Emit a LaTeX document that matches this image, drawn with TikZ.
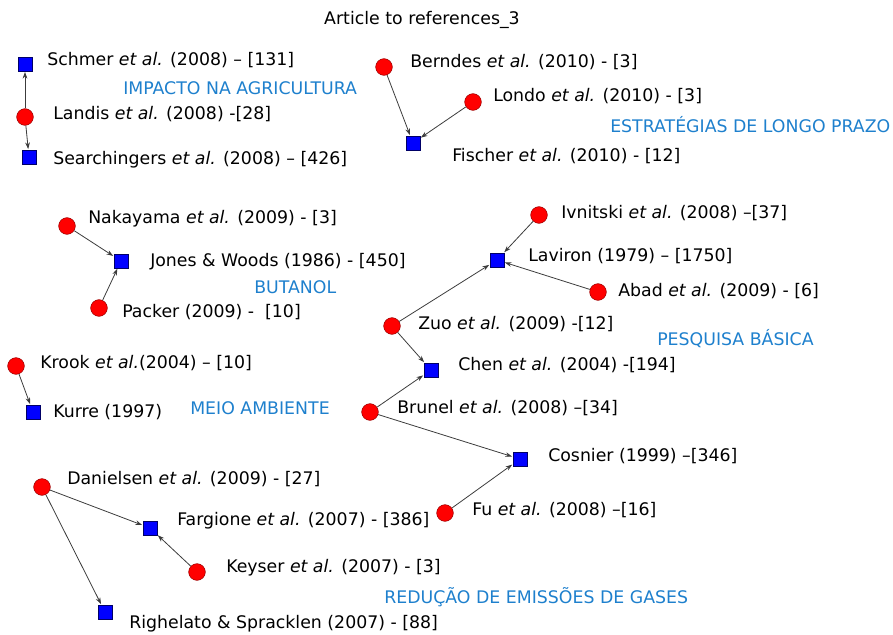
\documentclass[tikz,border=0pt]{standalone}
\usepackage{fontspec}
\setmainfont{DejaVu Sans}
\usetikzlibrary{arrows.meta}
\definecolor{catblue}{RGB}{30,128,205}
\definecolor{edgegray}{RGB}{60,60,60}
\tikzset{
  citing/.style={circle,draw=red!60!black,fill=red,minimum size=12.5pt,inner sep=0pt,line width=0.4pt},
  cited/.style={rectangle,draw=blue!40!black,fill=blue,minimum size=10.5pt,inner sep=0pt,line width=0.4pt},
  lbl/.style={anchor=west,inner sep=0pt,font=\fontsize{13}{15}\selectfont,text=black},
  cat/.style={anchor=west,inner sep=0pt,font=\fontsize{13}{15}\selectfont,text=catblue},
  link/.style={draw=edgegray,line width=0.6pt,-{Stealth[length=5pt,width=3.5pt]},shorten >=0.5pt}
}
\begin{document}
\begin{tikzpicture}[x=0.75pt,y=-0.75pt]
\useasboundingbox (0,0) rectangle (893,635);
\node[anchor=center,inner sep=0pt,font=\fontsize{13}{15}\selectfont] (title) at (422,20) {Article to references\_3};

% IMPACTO NA AGRICULTURA
\node[cited] (schmer) at (25,64) {};
\node[citing] (landis) at (25,117) {};
\node[cited] (search) at (29,157) {};
\draw[link] (landis) -- (schmer);
\draw[link] (landis) -- (search);
\node[lbl] (tschmer) at (47,60) {Schmer \textit{et al.} (2008) – [131]};
\node[cat] (cagri) at (123,88) {IMPACTO NA AGRICULTURA};
\node[lbl] (tlandis) at (53,114) {Landis \textit{et al.} (2008) -[28]};
\node[lbl] (tsearch) at (53,160) {Searchingers \textit{et al.} (2008) – [426]};

% ESTRATEGIAS
\node[citing] (berndes) at (384,67) {};
\node[citing] (londo) at (473,102) {};
\node[cited] (fischer) at (413,143) {};
\draw[link] (berndes) -- (fischer);
\draw[link] (londo) -- (fischer);
\node[lbl] (tberndes) at (410,62) {Berndes \textit{et al.} (2010) - [3]};
\node[lbl] (tlondo) at (493,96) {Londo \textit{et al.} (2010) - [3]};
\node[cat] (cestr) at (610,125) {ESTRATÉGIAS DE LONGO PRAZO};
\node[lbl] (tfischer) at (452,156) {Fischer \textit{et al.} (2010) - [12]};

% BUTANOL
\node[citing] (nakayama) at (67,226) {};
\node[cited] (jones) at (121,261) {};
\node[citing] (packer) at (99,308) {};
\draw[link] (nakayama) -- (jones);
\draw[link] (packer) -- (jones);
\node[lbl] (tnakayama) at (88,219) {Nakayama \textit{et al.} (2009) - [3]};
\node[lbl] (tjones) at (150,262) {Jones \& Woods (1986) - [450]};
\node[cat] (cbut) at (254,287) {BUTANOL};
\node[lbl] (tpacker) at (122,312) {Packer (2009) -~~[10]};

% MEIO AMBIENTE
\node[citing] (krook) at (16,366) {};
\node[cited] (kurre) at (33,412) {};
\draw[link] (krook) -- (kurre);
\node[lbl] (tkrook) at (40,363) {Krook \textit{et al.}(2004) – [10]};
\node[lbl] (tkurre) at (53,412) {Kurre (1997)};
\node[cat] (cmeio) at (190,408) {MEIO AMBIENTE};

% PESQUISA BASICA
\node[citing] (ivnitski) at (539,215) {};
\node[cited] (laviron) at (497,260) {};
\node[citing] (abad) at (598,292) {};
\node[citing] (zuo) at (392,326) {};
\node[cited] (chen) at (431,370) {};
\node[citing] (brunel) at (370,412) {};
\node[cited] (cosnier) at (520,459) {};
\node[citing] (fu) at (445,513) {};
\draw[link] (ivnitski) -- (laviron);
\draw[link] (abad) -- (laviron);
\draw[link] (zuo) -- (laviron);
\draw[link] (zuo) -- (chen);
\draw[link] (brunel) -- (chen);
\draw[link] (brunel) -- (cosnier);
\draw[link] (fu) -- (cosnier);
\node[lbl] (tivnitski) at (561,213) {Ivnitski \textit{et al.} (2008) –[37]};
\node[lbl] (tlaviron) at (528,256) {Laviron (1979) – [1750]};
\node[lbl] (tabad) at (618,291) {Abad \textit{et al.} (2009) - [6]};
\node[lbl] (tzuo) at (418,324) {Zuo \textit{et al.} (2009) -[12]};
\node[cat] (cpesq) at (657,339) {PESQUISA BÁSICA};
\node[lbl] (tchen) at (458,365) {Chen \textit{et al.} (2004) -[194]};
\node[lbl] (tbrunel) at (397,408) {Brunel \textit{et al.} (2008) –[34]};
\node[lbl] (tcosnier) at (548,456) {Cosnier (1999) –[346]};
\node[lbl] (tfu) at (472,510) {Fu \textit{et al.} (2008) –[16]};

% REDUCAO
\node[citing] (danielsen) at (42,487) {};
\node[cited] (fargione) at (150,528) {};
\node[citing] (keyser) at (197,572) {};
\node[cited] (righelato) at (105,612) {};
\draw[link] (danielsen) -- (fargione);
\draw[link] (danielsen) -- (righelato);
\draw[link] (keyser) -- (fargione);
\node[lbl] (tdanielsen) at (67,479) {Danielsen \textit{et al.} (2009) - [27]};
\node[lbl] (tfargione) at (177,521) {Fargione \textit{et al.} (2007) - [386]};
\node[lbl] (tkeyser) at (226,568) {Keyser \textit{et al.} (2007) - [3]};
\node[cat] (cred) at (384,597) {REDUÇÃO DE EMISSÕES DE GASES};
\node[lbl] (trighelato) at (129,624) {Righelato \& Spracklen (2007) - [88]};
\end{tikzpicture}
\end{document}
